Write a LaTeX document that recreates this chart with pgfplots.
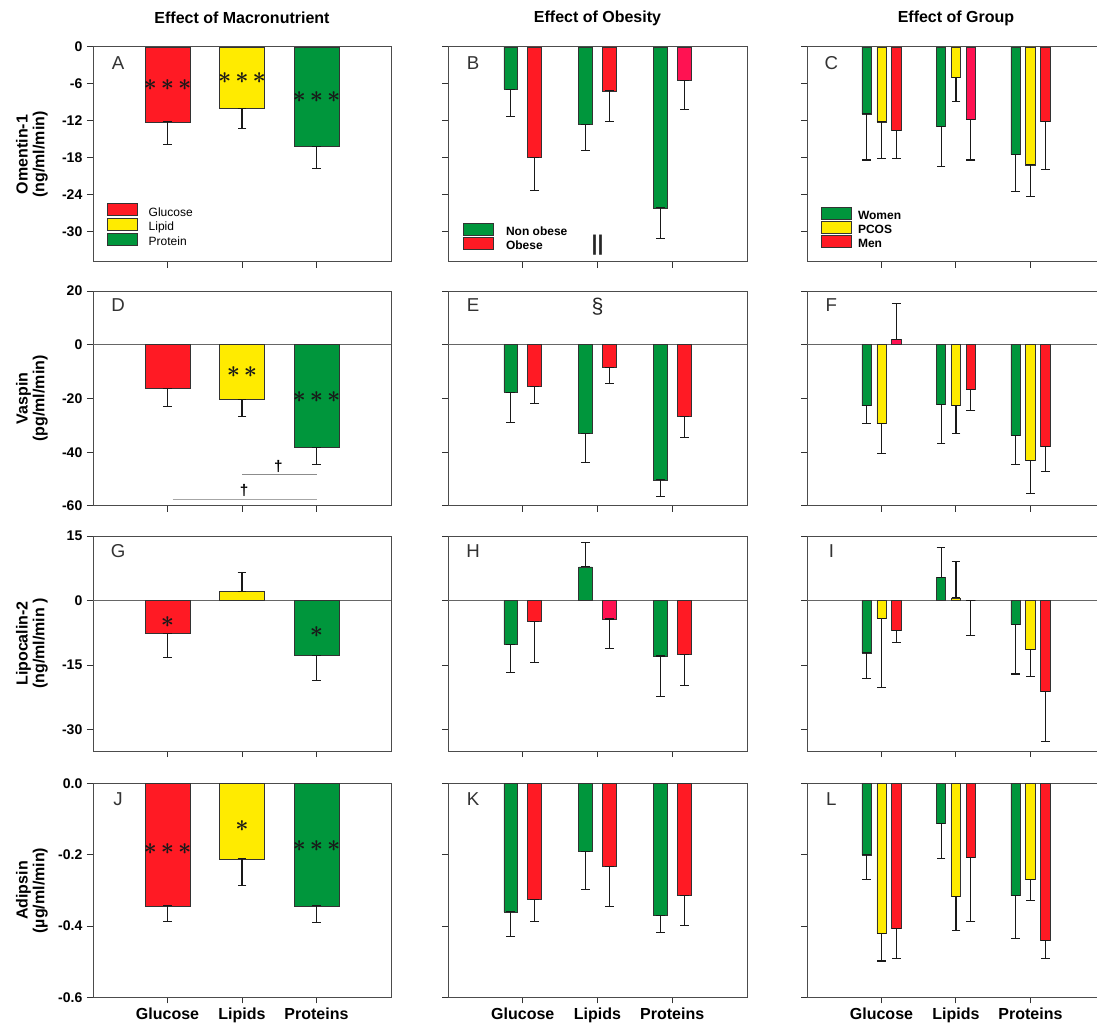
\documentclass[border=0pt]{standalone}
\usepackage{fontspec}
\setmainfont{Liberation Sans}
\usepackage{pgfplots}
\pgfplotsset{compat=1.18}
\definecolor{cR}{RGB}{255,26,36}
\definecolor{cP}{RGB}{255,18,82}
\definecolor{cY}{RGB}{255,235,0}
\definecolor{cG}{RGB}{0,150,60}
\newcommand{\st}{{\boldmath$\ast$}}
\newcommand{\sss}{\st\hspace{3pt}\st\hspace{3pt}\st}
\newcommand{\ssd}{\st\hspace{3pt}\st}
\tikzset{
 lbl/.style={font=\fontsize{14}{15}\selectfont, text=black!80},
 star/.style={font=\fontsize{19}{19}\selectfont, text=black!90},
}
\pgfplotsset{
 base/.style={scale only axis, anchor=north west, xmin=-1, xmax=3, xtick={0,1,2}, xticklabels={},
  tick align=outside, tick pos=left, major tick length=4.5pt,
  axis line style={draw=black!70, line width=0.75pt},
  tick style={draw=black!80, line width=0.75pt},
  /pgf/number format/assume math mode=true,
  yticklabel style={font=\bfseries\fontsize{10.5}{12}\selectfont},
  xticklabel style={font=\bfseries\fontsize{12}{14}\selectfont},
  every axis y label/.style={at={(axis description cs:-0.205,0.5)}, rotate=90, anchor=center,
     font=\bfseries\fontsize{12}{12.5}\selectfont, align=center},
  title style={font=\bfseries\fontsize{12}{14}\selectfont, at={(axis description cs:0.5,1)}, anchor=center, yshift=15.75pt},
  clip=false,
  error bars/y dir=both, error bars/y explicit,
  error bars/error bar style={draw=black!90, line width=0.8pt},
  error bars/error mark options={rotate=90, draw=black!90, line width=0.8pt, mark size=3.3pt},
  legend cell align=left,
  legend image code/.code={\draw[#1, draw=black!80, line width=0.6pt] (0pt,-2.2pt) rectangle (22pt,6.8pt);},
 },
 b/.style={ybar, draw=black!80, line width=0.5pt, bar shift=0},
 c1/.style={b, bar width=0.6},
 c2/.style={b, bar width=0.185},
 c3/.style={b, bar width=0.125},
 r1/.style={ymin=-35, ymax=0, ytick={-30,-24,-18,-12,-6,0}, at={(#1,-35.25pt)}, height=161.25pt},
 r2/.style={ymin=-60, ymax=20, ytick={-60,-40,-20,0,20}, at={(#1,-218.25pt)}, height=161.25pt},
 r3/.style={ymin=-35, ymax=15, ytick={-30,-15,0,15}, at={(#1,-402pt)}, height=161.25pt},
 r4/.style={ymin=-0.6, ymax=0, ytick={-0.6,-0.4,-0.2,0}, at={(#1,-587.8pt)}, height=160.2pt,
   yticklabel style={/pgf/number format/.cd, fixed, fixed zerofill, precision=1}},
 k1/.style={base, width=223.5pt},
 k2/.style={base, width=224.25pt, yticklabels={}},
 k3/.style={base, width=217.875pt, xmax=2.9, yticklabels={}},
}
\begin{document}
\begin{tikzpicture}
\path[use as bounding box] (0pt,0pt) rectangle (822.75pt,-768pt);

% ---------------- Row 1 ----------------
\begin{axis}[k1, r1=69.75pt, ylabel={Omentin-1\\(ng/ml/min)}, title={Effect of Macronutrient},
  legend style={at={(axis description cs:0.047,0.274)}, anchor=north west, draw=none, fill=none, inner sep=0pt,
   font=\fontsize{9}{10}\selectfont, row sep=-0.5pt, nodes={inner sep=0.5pt}, /tikz/every odd column/.append style={column sep=8pt}}]
\addplot[c1, fill=cR] table[x=x,y=y,y error plus=p,y error minus=m] {
x y p m
0 -12.2 0 3.6
};
\addlegendentry{Glucose}
\addplot[c1, fill=cY] table[x=x,y=y,y error plus=p,y error minus=m] {
x y p m
1 -10.0 0 3.3
};
\addlegendentry{Lipid}
\addplot[c1, fill=cG] table[x=x,y=y,y error plus=p,y error minus=m] {
x y p m
2 -16.2 0 3.6
};
\addlegendentry{Protein}
\node[lbl] at (axis description cs:0.084,0.926) {A};
\node[star] at (axis cs:0,-6.2) {\sss};
\node[star] at (axis cs:1,-5.1) {\sss};
\node[star] at (axis cs:2,-8.1) {\sss};
\end{axis}

\begin{axis}[k2, r1=336pt, title={Effect of Obesity},
  legend style={at={(axis description cs:0.05,0.184)}, anchor=north west, draw=none, fill=none, inner sep=0pt,
   font=\bfseries\fontsize{9}{10}\selectfont, row sep=-0.75pt, nodes={inner sep=0.5pt}, /tikz/every odd column/.append style={column sep=9pt}}]
\addplot[c2, fill=cG] table[x expr=\thisrow{x}-0.16,y=y,y error plus=p,y error minus=m] {
x y p m
0 -6.9 0 4.4
1 -12.6 0 4.3
2 -26.2 0 5.0
};
\addlegendentry{Non obese}
\addplot[c2, fill=cR] table[x expr=\thisrow{x}+0.16,y=y,y error plus=p,y error minus=m] {
x y p m
0 -18.0 0 5.3
1 -7.15 0 5.05
};
\addlegendentry{Obese}
\addplot[c2, fill=cP, forget plot] table[x expr=\thisrow{x}+0.16,y=y,y error plus=p,y error minus=m] {
x y p m
2 -5.5 0 4.6
};
\node[lbl] at (axis description cs:0.084,0.926) {B};
\node[font=\bfseries\fontsize{16}{16}\selectfont, text=black!85] at (axis cs:1,-32.2) {||};
\end{axis}

\begin{axis}[k3, r1=605.25pt, title={Effect of Group}, title style={at={(axis description cs:0.5128,1)}},
  legend style={at={(axis description cs:0.048,0.256)}, anchor=north west, draw=none, fill=none, inner sep=0pt,
   font=\bfseries\fontsize{9}{10}\selectfont, row sep=-1.1pt, nodes={inner sep=0.5pt}, /tikz/every odd column/.append style={column sep=4.5pt}}]
\addplot[c3, fill=cG] table[x expr=\thisrow{x}-0.2,y=y,y error plus=p,y error minus=m] {
x y p m
0 -10.9 0 7.5
1 -12.9 0 6.5
2 -17.5 0 6.0
};
\addlegendentry{Women}
\addplot[c3, fill=cY] table[x=x,y=y,y error plus=p,y error minus=m] {
x y p m
0 -12.2 0 6.0
1 -5.0 0 3.8
2 -19.2 0 5.2
};
\addlegendentry{PCOS}
\addplot[c3, fill=cR] table[x expr=\thisrow{x}+0.2,y=y,y error plus=p,y error minus=m] {
x y p m
0 -13.6 0 4.6
2 -12.1 0 7.8
};
\addlegendentry{Men}
\addplot[c3, fill=cP, forget plot] table[x expr=\thisrow{x}+0.2,y=y,y error plus=p,y error minus=m] {
x y p m
1 -11.8 0 6.6
};
\node[lbl] at (axis description cs:0.084,0.926) {C};
\end{axis}

% ---------------- Row 2 ----------------
\begin{axis}[k1, r2=69.75pt, ylabel={Vaspin\\(pg/ml/min)}]
\draw[black!60, line width=0.75pt] (axis cs:-1,0) -- (axis cs:3,0);
\addplot[c1, fill=cR] table[x=x,y=y,y error plus=p,y error minus=m] {
x y p m
0 -16.4 0 6.5
};
\addplot[c1, fill=cY] table[x=x,y=y,y error plus=p,y error minus=m] {
x y p m
1 -20.4 0 6.4
};
\addplot[c1, fill=cG] table[x=x,y=y,y error plus=p,y error minus=m] {
x y p m
2 -38.3 0 6.2
};
\node[lbl] at (axis description cs:0.084,0.935) {D};
\node[star] at (axis cs:1,-10.0) {\ssd};
\node[star] at (axis cs:2,-19.3) {\sss};
\draw[black!45, line width=0.75pt] (axis cs:1,-48.4) -- (axis cs:2,-48.4);
\draw[black!35, line width=0.75pt] (axis cs:0.07,-57.5) -- (axis cs:2,-57.5);
\node[font=\bfseries\fontsize{11.5}{12}\selectfont] at (axis cs:1.49,-45.3) {†};
\node[font=\bfseries\fontsize{11.5}{12}\selectfont] at (axis cs:1.03,-54.3) {†};
\end{axis}

\begin{axis}[k2, r2=336pt]
\draw[black!60, line width=0.75pt] (axis cs:-1,0) -- (axis cs:3,0);
\addplot[c2, fill=cG] table[x expr=\thisrow{x}-0.16,y=y,y error plus=p,y error minus=m] {
x y p m
0 -17.6 0 11.3
1 -33.1 0 10.6
2 -50.3 0 6.3
};
\addplot[c2, fill=cR] table[x expr=\thisrow{x}+0.16,y=y,y error plus=p,y error minus=m] {
x y p m
0 -15.6 0 6.4
1 -8.3 0 6.1
2 -26.8 0 7.6
};
\node[lbl] at (axis description cs:0.084,0.935) {E};
\node[font=\fontsize{16}{16}\selectfont, text=black!85] at (axis cs:1,14.1) {§};
\end{axis}

\begin{axis}[k3, r2=605.25pt]
\draw[black!60, line width=0.75pt] (axis cs:-1,0) -- (axis cs:2.9,0);
\addplot[c3, fill=cG] table[x expr=\thisrow{x}-0.2,y=y,y error plus=p,y error minus=m] {
x y p m
0 -22.7 0 6.7
1 -22.2 0 14.6
2 -33.7 0 10.8
};
\addplot[c3, fill=cY] table[x=x,y=y,y error plus=p,y error minus=m] {
x y p m
0 -29.4 0 10.9
1 -22.7 0 10.2
2 -42.9 0 12.5
};
\addplot[c3, fill=cP] table[x expr=\thisrow{x}+0.2,y=y,y error plus=p,y error minus=m] {
x y p m
0 2.0 13.2 0
};
\addplot[c3, fill=cR] table[x expr=\thisrow{x}+0.2,y=y,y error plus=p,y error minus=m] {
x y p m
1 -16.6 0 8.0
2 -37.8 0 9.5
};
\node[lbl] at (axis description cs:0.084,0.935) {F};
\end{axis}

% ---------------- Row 3 ----------------
\begin{axis}[k1, r3=69.75pt, ylabel={Lipocalin-2\\(ng/ml/min )}]
\draw[black!60, line width=0.75pt] (axis cs:-1,0) -- (axis cs:3,0);
\addplot[c1, fill=cR] table[x=x,y=y,y error plus=p,y error minus=m] {
x y p m
0 -7.7 0 5.5
};
\addplot[c1, fill=cY] table[x=x,y=y,y error plus=p,y error minus=m] {
x y p m
1 2.1 4.5 0
};
\addplot[c1, fill=cG] table[x=x,y=y,y error plus=p,y error minus=m] {
x y p m
2 -12.8 0 5.9
};
\node[lbl] at (axis description cs:0.084,0.93) {G};
\node[star] at (axis cs:0,-4.9) {\st};
\node[star] at (axis cs:2,-7.4) {\st};
\end{axis}

\begin{axis}[k2, r3=336pt]
\draw[black!60, line width=0.75pt] (axis cs:-1,0) -- (axis cs:3,0);
\addplot[c2, fill=cG] table[x expr=\thisrow{x}-0.16,y=y,y error plus=p,y error minus=m] {
x y p m
0 -10.2 0 6.5
1 7.8 5.6 0
2 -12.9 0 9.4
};
\addplot[c2, fill=cR] table[x expr=\thisrow{x}+0.16,y=y,y error plus=p,y error minus=m] {
x y p m
0 -4.9 0 9.5
2 -12.6 0 7.2
};
\addplot[c2, fill=cP] table[x expr=\thisrow{x}+0.16,y=y,y error plus=p,y error minus=m] {
x y p m
1 -4.3 0 6.9
};
\node[lbl] at (axis description cs:0.084,0.93) {H};
\end{axis}

\begin{axis}[k3, r3=605.25pt]
\draw[black!60, line width=0.75pt] (axis cs:-1,0) -- (axis cs:2.9,0);
\addplot[c3, fill=cG] table[x expr=\thisrow{x}-0.2,y=y,y error plus=p,y error minus=m] {
x y p m
0 -12.2 0 5.9
1 5.4 7.0 0
2 -5.5 0 11.6
};
\addplot[c3, fill=cY] table[x=x,y=y,y error plus=p,y error minus=m] {
x y p m
0 -4.1 0 16.1
1 0.6 8.5 0
2 -11.3 0 6.3
};
\addplot[c3, fill=cR] table[x expr=\thisrow{x}+0.2,y=y,y error plus=p,y error minus=m] {
x y p m
0 -6.9 0 2.8
1 0 0 8.2
2 -21.2 0 11.6
};
\node[lbl] at (axis description cs:0.084,0.93) {I};
\end{axis}

% ---------------- Row 4 ----------------
\begin{axis}[k1, r4=69.75pt, ylabel={Adipsin\\(µg/ml/min)}, xticklabels={Glucose,Lipids,Proteins}]
\addplot[c1, fill=cR] table[x=x,y=y,y error plus=p,y error minus=m] {
x y p m
0 -0.343 0 0.045
};
\addplot[c1, fill=cY] table[x=x,y=y,y error plus=p,y error minus=m] {
x y p m
1 -0.211 0 0.076
};
\addplot[c1, fill=cG] table[x=x,y=y,y error plus=p,y error minus=m] {
x y p m
2 -0.343 0 0.048
};
\node[lbl] at (axis description cs:0.084,0.93) {J};
\node[star] at (axis cs:0,-0.184) {\sss};
\node[star] at (axis cs:1,-0.118) {\st};
\node[star] at (axis cs:2,-0.175) {\sss};
\end{axis}

\begin{axis}[k2, r4=336pt, xticklabels={Glucose,Lipids,Proteins}]
\addplot[c2, fill=cG] table[x expr=\thisrow{x}-0.16,y=y,y error plus=p,y error minus=m] {
x y p m
0 -0.360 0 0.068
1 -0.191 0 0.107
2 -0.370 0 0.048
};
\addplot[c2, fill=cR] table[x expr=\thisrow{x}+0.16,y=y,y error plus=p,y error minus=m] {
x y p m
0 -0.325 0 0.063
1 -0.233 0 0.111
2 -0.314 0 0.085
};
\node[lbl] at (axis description cs:0.084,0.93) {K};
\end{axis}

\begin{axis}[k3, r4=605.25pt, xticklabels={Glucose,Lipids,Proteins}]
\addplot[c3, fill=cG] table[x expr=\thisrow{x}-0.2,y=y,y error plus=p,y error minus=m] {
x y p m
0 -0.200 0 0.069
1 -0.111 0 0.098
2 -0.314 0 0.121
};
\addplot[c3, fill=cY] table[x=x,y=y,y error plus=p,y error minus=m] {
x y p m
0 -0.421 0 0.077
1 -0.316 0 0.095
2 -0.269 0 0.059
};
\addplot[c3, fill=cR] table[x expr=\thisrow{x}+0.2,y=y,y error plus=p,y error minus=m] {
x y p m
0 -0.406 0 0.084
1 -0.208 0 0.180
2 -0.441 0 0.049
};
\node[lbl] at (axis description cs:0.084,0.93) {L};
\end{axis}
\end{tikzpicture}
\end{document}
